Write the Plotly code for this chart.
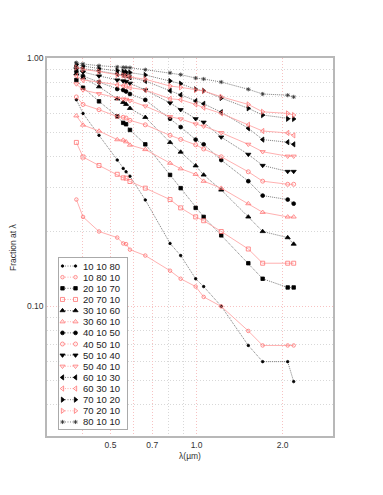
import math

import plotly.graph_objects as go

# 波长 (µm)
wavelength = [0.380, 0.401, 0.456, 0.528, 0.554, 0.567, 0.585, 0.662, 0.808, 0.880,
              0.993, 1.059, 1.220, 1.517, 1.703, 2.083, 2.186]

# fraction at lambda, one list per population mix
f_10_10_80 = [0.679, 0.598, 0.488, 0.388, 0.359, 0.348, 0.334, 0.268, 0.179, 0.160,
              0.129, 0.120, 0.100, 0.0695, 0.0598, 0.0598, 0.0497]
f_10_80_10 = [0.269, 0.229, 0.200, 0.189, 0.179, 0.178, 0.169, 0.160, 0.139, 0.129,
              0.120, 0.109, 0.0998, 0.0795, 0.0695, 0.0695, 0.0695]
f_20_10_70 = [0.815, 0.759, 0.669, 0.582, 0.548, 0.541, 0.513, 0.449, 0.338, 0.299,
              0.249, 0.229, 0.193, 0.149, 0.129, 0.119, 0.119]
f_20_70_10 = [0.457, 0.399, 0.369, 0.340, 0.329, 0.328, 0.318, 0.299, 0.269, 0.249,
              0.229, 0.221, 0.200, 0.170, 0.149, 0.149, 0.149]
f_30_10_60 = [0.864, 0.833, 0.766, 0.685, 0.663, 0.651, 0.627, 0.577, 0.457, 0.418,
              0.368, 0.338, 0.294, 0.229, 0.200, 0.189, 0.178]
f_30_60_10 = [0.585, 0.537, 0.508, 0.469, 0.467, 0.460, 0.446, 0.428, 0.377, 0.358,
              0.340, 0.319, 0.299, 0.259, 0.239, 0.229, 0.229]
f_40_10_50 = [0.882, 0.846, 0.800, 0.750, 0.743, 0.733, 0.716, 0.678, 0.569, 0.527,
              0.469, 0.449, 0.388, 0.319, 0.279, 0.269, 0.259]
f_40_50_10 = [0.697, 0.650, 0.619, 0.581, 0.577, 0.573, 0.561, 0.538, 0.488, 0.470,
              0.447, 0.430, 0.400, 0.348, 0.319, 0.310, 0.310]
f_50_10_40 = [0.903, 0.878, 0.846, 0.815, 0.808, 0.804, 0.791, 0.743, 0.659, 0.619,
              0.569, 0.551, 0.480, 0.409, 0.369, 0.349, 0.349]
f_50_40_10 = [0.786, 0.743, 0.718, 0.688, 0.683, 0.681, 0.673, 0.640, 0.580, 0.568,
              0.542, 0.531, 0.500, 0.449, 0.419, 0.402, 0.402]
f_60_10_30 = [0.928, 0.907, 0.886, 0.862, 0.854, 0.850, 0.836, 0.808, 0.738, 0.710,
              0.671, 0.654, 0.605, 0.521, 0.469, 0.458, 0.449]
f_60_30_10 = [0.848, 0.815, 0.800, 0.778, 0.773, 0.771, 0.760, 0.743, 0.685, 0.679,
              0.650, 0.631, 0.598, 0.538, 0.508, 0.499, 0.488]
f_70_10_20 = [0.943, 0.928, 0.907, 0.890, 0.882, 0.878, 0.874, 0.854, 0.808, 0.788,
              0.748, 0.738, 0.690, 0.627, 0.589, 0.569, 0.568]
f_70_20_10 = [0.916, 0.899, 0.882, 0.854, 0.850, 0.846, 0.838, 0.821, 0.771, 0.762,
              0.743, 0.736, 0.698, 0.650, 0.607, 0.598, 0.589]
f_80_10_10 = [0.957, 0.946, 0.931, 0.920, 0.917, 0.916, 0.914, 0.897, 0.871, 0.857,
              0.830, 0.823, 0.800, 0.748, 0.716, 0.708, 0.697]

legend_title = '0.005 + 0.05 + 13 Gyr'
x_ticks = [0.4, 0.5, 0.6, 0.7, 1.0, 2.0]
x_ticktext = ['', '0.5', '', '0.7', '1.0', '2.0']
y_ticks = [0.1, 1.0]
y_ticktext = ['0.10', '1.00']

# (marker, line, dash)
BLACK = ('#000000', '#5a5a5a', '1px,1px')
RED = ('#ff7272', '#ff9c9c', 'solid')

# 名字, 数据, 符号, 大小, 颜色
series = [
    ('10 10 80', f_10_10_80, 'circle', 2.5, BLACK),
    ('10 80 10', f_10_80_10, 'circle-open', 3.5, RED),
    ('20 10 70', f_20_10_70, 'square', 3.5, BLACK),
    ('20 70 10', f_20_70_10, 'square-open', 4, RED),
    ('30 10 60', f_30_10_60, 'triangle-up', 4.5, BLACK),
    ('30 60 10', f_30_60_10, 'triangle-up-open', 4.5, RED),
    ('40 10 50', f_40_10_50, 'circle', 3.8, BLACK),
    ('40 50 10', f_40_50_10, 'circle-open', 4, RED),
    ('50 10 40', f_50_10_40, 'triangle-down', 4.5, BLACK),
    ('50 40 10', f_50_40_10, 'triangle-down-open', 4.5, RED),
    ('60 10 30', f_60_10_30, 'triangle-left', 4.5, BLACK),
    ('60 30 10', f_60_30_10, 'triangle-left-open', 4.5, RED),
    ('70 10 20', f_70_10_20, 'triangle-right', 4.5, BLACK),
    ('70 20 10', f_70_20_10, 'triangle-right-open', 4.5, RED),
    ('80 10 10', f_80_10_10, 'asterisk-open', 3.5, ('#333333', '#5a5a5a', '1px,1px')),
]

FONT = 'Liberation Sans, Arial, sans-serif'

fig = go.Figure()

for name, vals, sym, size, (mcol, lcol, dash) in series:
    fig.add_trace(go.Scatter(
        x=wavelength, y=vals, name=name, mode='lines+markers',
        line=dict(color=lcol, width=0.8, dash=dash),
        marker=dict(symbol=sym, size=size, color=mcol, line=dict(color=mcol, width=0.8)),
        showlegend=False, cliponaxis=False))

# 图例 (画在独立小坐标系里)
row_h = 11.14
for i, (name, vals, sym, size, (mcol, lcol, dash)) in enumerate(series):
    yy = 7.7 + row_h * i
    fig.add_trace(go.Scatter(
        x=[3.2, 16.2], y=[yy, yy], mode='lines+markers',
        line=dict(color=lcol, width=0.8, dash='1px,1.5px'),
        marker=dict(symbol=sym, size=size, color=mcol, line=dict(color=mcol, width=0.8)),
        xaxis='x2', yaxis='y2', showlegend=False, hoverinfo='skip'))
    fig.add_annotation(x=21.4, y=yy, xref='x2', yref='y2', text=name, showarrow=False,
                       xanchor='left', yanchor='middle',
                       font=dict(family=FONT, size=9.5, color='#222222'))

fig.add_annotation(x=-3.3, y=-6, xref='x2', yref='y2', text=legend_title, showarrow=False,
                   xanchor='left', yanchor='middle',
                   font=dict(family=FONT, size=6.8, color='#222222'))

# y轴标题
fig.add_annotation(x=-0.119, y=0.5, xref='paper', yref='paper', text='Fraction at λ',
                   showarrow=False, textangle=-90, xanchor='center', yanchor='middle',
                   font=dict(family=FONT, size=8.5, color='#333333'))

fig.add_shape(type='rect', xref='x2 domain', yref='y2 domain', x0=0, x1=1, y0=0, y1=1,
              fillcolor='white', line=dict(width=0), layer='below')

grid_major = '#f7c2c2'
grid_minor = '#d8d8d8'
grid_dash = '1px,2px'

# the page body adds 8px on the left and top, so the figure is 8px smaller
fig.update_layout(
    width=375, height=487, margin=dict(l=39, r=50, t=50, b=59),
    paper_bgcolor='white', plot_bgcolor='white',
    font=dict(family=FONT, size=8.5, color='#333333'),
    xaxis=dict(type='log', range=[math.log10(0.3), math.log10(3.0)],
               tickvals=x_ticks, ticktext=x_ticktext, ticks='',
               showgrid=True, gridcolor=grid_major, griddash=grid_dash, gridwidth=1,
               minor=dict(tickvals=[0.8, 0.9], showgrid=True, gridcolor=grid_minor,
                          griddash=grid_dash, gridwidth=1, ticks=''),
               showline=True, mirror=True, linecolor='#b8b8b8', linewidth=1.5,
               zeroline=False, tickfont=dict(size=8.5, color='#333333'),
               title=dict(text='λ(µm)', font=dict(size=8.5, color='#333333'), standoff=4)),
    yaxis=dict(type='log', range=[math.log10(0.03), 0],
               tickvals=y_ticks, ticktext=y_ticktext, ticks='',
               showgrid=True, gridcolor=grid_major, griddash=grid_dash, gridwidth=1,
               minor=dict(tickvals=[0.04, 0.05, 0.06, 0.07, 0.08, 0.09,
                                    0.2, 0.3, 0.4, 0.5, 0.6, 0.7, 0.8, 0.9],
                          showgrid=True, gridcolor=grid_minor, griddash=grid_dash,
                          gridwidth=1, ticks=''),
               showline=True, mirror=True, linecolor='#b8b8b8', linewidth=1.5,
               zeroline=False, tickfont=dict(size=8.5, color='#333333')),
    xaxis2=dict(domain=[0.043, 0.281], range=[0, 68], anchor='y2',
                showgrid=False, zeroline=False, showticklabels=False, ticks='',
                showline=True, mirror=True, linecolor='#aaaaaa', linewidth=1),
    yaxis2=dict(domain=[0.0177, 0.470], range=[171, 0], anchor='x2',
                showgrid=False, zeroline=False, showticklabels=False, ticks='',
                showline=True, mirror=True, linecolor='#aaaaaa', linewidth=1),
)

fig.write_html('out.html')
